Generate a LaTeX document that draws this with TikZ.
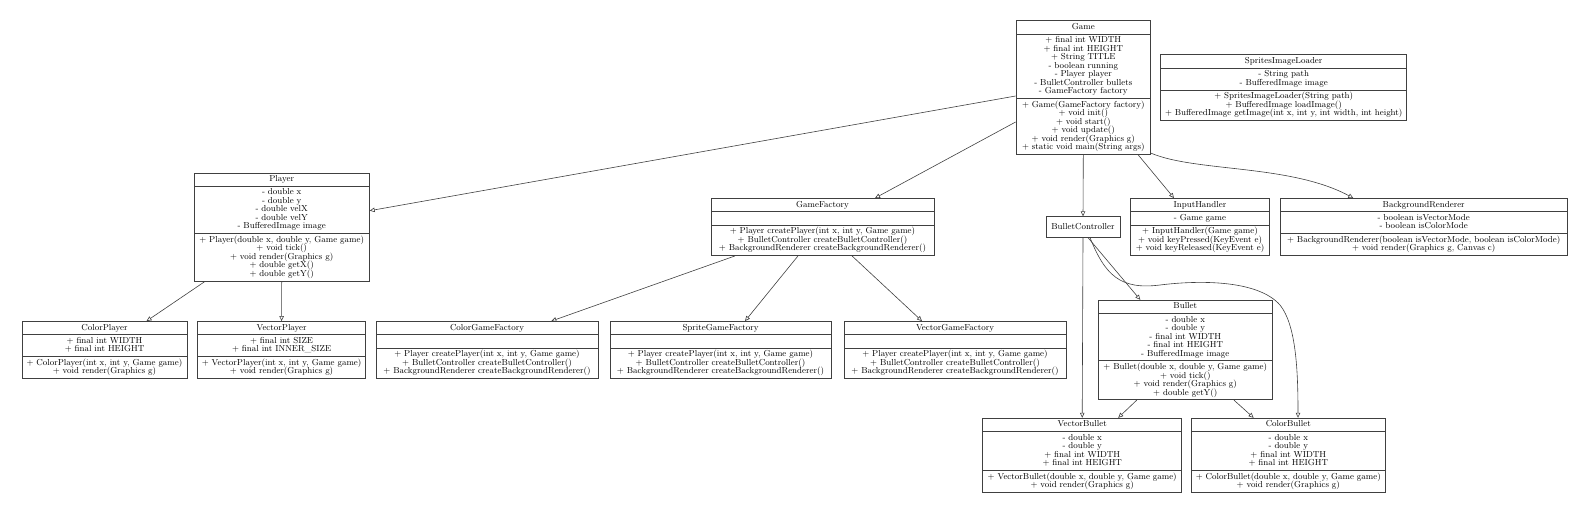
\documentclass[tikz,border=0pt]{standalone}
\usepackage{fontspec}
\usepackage{tikz}
\usetikzlibrary{shapes.multipart, arrows.meta}

\newcommand{\umlfont}{\fontsize{8.7}{8.5}\selectfont\lineskiplimit=-3pt
    \setbox\strutbox\hbox{\vrule height6.3pt depth2.2pt width0pt}}

\begin{document}
\begin{tikzpicture}[x=1pt, y=-1pt,
    umlclass/.style={draw=black!75, line width=0.7pt, rectangle split, rectangle split parts=3,
        font=\umlfont, align=center, inner xsep=2pt, inner ysep=2.05pt},
    umlbox/.style={draw=black!75, line width=0.7pt, font=\umlfont, inner sep=0pt},
    inherit/.style={draw=black!75, line width=0.6pt, -{Triangle[open, length=5pt, width=4.5pt]}}]

    \useasboundingbox (0,0) rectangle (1589,515);

    % first rank
    \node[umlclass, text width=130.7pt] (game) at (1083.3,87.5)
        {\strut Game\strut
        \nodepart{second}\strut + final int WIDTH\\ + final int HEIGHT\\ + String TITLE\\ - boolean running\\
        - Player player\\ - BulletController bullets\\ - GameFactory factory\strut
        \nodepart{third}\strut + Game(GameFactory factory)\\ + void init()\\ + void start()\\ + void update()\\
        + void render(Graphics g)\\ + static void main(String args)\strut};
    \node[umlclass, text width=242pt] (spritesLoader) at (1283.7,87.6)
        {\strut SpritesImageLoader\strut
        \nodepart{second}\strut - String path\\ - BufferedImage image\strut
        \nodepart{third}\strut + SpritesImageLoader(String path)\\ + BufferedImage loadImage()\\
        + BufferedImage getImage(int x, int y, int width, int height)\strut};

    % second rank
    \node[umlclass, text width=171.3pt] (player) at (281.7,227)
        {\strut Player\strut
        \nodepart{second}\strut - double x\\ - double y\\ - double velX\\ - double velY\\ - BufferedImage image\strut
        \nodepart{third}\strut + Player(double x, double y, Game game)\\ + void tick()\\ + void render(Graphics g)\\
        + double getX()\\ + double getY()\strut};
    \node[umlclass, text width=219pt] (gameFactory) at (822.5,227)
        {\strut GameFactory\strut
        \nodepart{second}\strut
        \nodepart{third}\strut + Player createPlayer(int x, int y, Game game)\\ + BulletController createBulletController()\\
        + BackgroundRenderer createBackgroundRenderer()\strut};
    \node[umlbox, minimum width=74pt, minimum height=20.6pt] (bulletCtrl) at (1083,227) {BulletController};
    \node[umlclass, text width=135pt] (inputHandler) at (1200,227)
        {\strut InputHandler\strut
        \nodepart{second}\strut - Game game\strut
        \nodepart{third}\strut + InputHandler(Game game)\\ + void keyPressed(KeyEvent e)\\ + void keyReleased(KeyEvent e)\strut};
    \node[umlclass, text width=283.3pt] (bgRenderer) at (1423.7,227)
        {\strut BackgroundRenderer\strut
        \nodepart{second}\strut - boolean isVectorMode\\ - boolean isColorMode\strut
        \nodepart{third}\strut + BackgroundRenderer(boolean isVectorMode, boolean isColorMode)\\
        + void render(Graphics g, Canvas c)\strut};

    % third rank
    \node[umlclass, text width=161pt] (colorPlayer) at (104.5,350)
        {\strut ColorPlayer\strut
        \nodepart{second}\strut + final int WIDTH\\ + final int HEIGHT\strut
        \nodepart{third}\strut + ColorPlayer(int x, int y, Game game)\\ + void render(Graphics g)\strut};
    \node[umlclass, text width=164.2pt] (vectorPlayer) at (281.6,350)
        {\strut VectorPlayer\strut
        \nodepart{second}\strut + final int SIZE\\ + final int INNER\_SIZE\strut
        \nodepart{third}\strut + VectorPlayer(int x, int y, Game game)\\ + void render(Graphics g)\strut};
    \node[umlclass, text width=218pt] (colorFactory) at (487,350)
        {\strut ColorGameFactory\strut
        \nodepart{second}\strut
        \nodepart{third}\strut + Player createPlayer(int x, int y, Game game)\\ + BulletController createBulletController()\\
        + BackgroundRenderer createBackgroundRenderer()\strut};
    \node[umlclass, text width=217pt] (spriteFactory) at (720.5,350)
        {\strut SpriteGameFactory\strut
        \nodepart{second}\strut
        \nodepart{third}\strut + Player createPlayer(int x, int y, Game game)\\ + BulletController createBulletController()\\
        + BackgroundRenderer createBackgroundRenderer()\strut};
    \node[umlclass, text width=218pt] (vectorFactory) at (955,350)
        {\strut VectorGameFactory\strut
        \nodepart{second}\strut
        \nodepart{third}\strut + Player createPlayer(int x, int y, Game game)\\ + BulletController createBulletController()\\
        + BackgroundRenderer createBackgroundRenderer()\strut};
    \node[umlclass, text width=170pt] (bullet) at (1185.3,350)
        {\strut Bullet\strut
        \nodepart{second}\strut - double x\\ - double y\\ - final int WIDTH\\ - final int HEIGHT\\ - BufferedImage image\strut
        \nodepart{third}\strut + Bullet(double x, double y, Game game)\\ + void tick()\\ + void render(Graphics g)\\
        + double getY()\strut};

    % fourth rank
    \node[umlclass, text width=195pt] (vectorBullet) at (1082.2,455.2)
        {\strut VectorBullet\strut
        \nodepart{second}\strut - double x\\ - double y\\ + final int WIDTH\\ + final int HEIGHT\strut
        \nodepart{third}\strut + VectorBullet(double x, double y, Game game)\\ + void render(Graphics g)\strut};
    \node[umlclass, text width=189.3pt] (colorBullet) at (1288.3,455.2)
        {\strut ColorBullet\strut
        \nodepart{second}\strut - double x\\ - double y\\ + final int WIDTH\\ + final int HEIGHT\strut
        \nodepart{third}\strut + ColorBullet(double x, double y, Game game)\\ + void render(Graphics g)\strut};

    % inheritance arrows
    \draw[inherit] ([yshift=-8.5pt]game.west) -- ([yshift=16.3pt]player.east);
    \draw[inherit] ([yshift=-34.5pt]game.west) -- ([xshift=52.5pt]gameFactory.north);
    \draw[inherit] (game.south) -- (bulletCtrl.north);
    \draw[inherit] ([xshift=54.7pt]game.south) -- ([xshift=-26pt]inputHandler.north);
    \draw[inherit] ([yshift=1.5pt]game.south east) .. controls +(45,19) and +(-63,-34) .. ([xshift=-70.4pt]bgRenderer.north);

    \draw[inherit] ([xshift=-76.7pt]player.south) -- ([xshift=42pt]colorPlayer.north);
    \draw[inherit] (player.south) -- (vectorPlayer.north);

    \draw[inherit] ([xshift=-87.5pt]gameFactory.south) -- ([xshift=64.3pt]colorFactory.north);
    \draw[inherit] ([xshift=-24.5pt]gameFactory.south) -- ([xshift=24.5pt]spriteFactory.north);
    \draw[inherit] ([xshift=29.5pt]gameFactory.south) -- ([xshift=-33pt]vectorFactory.north);

    \draw[inherit] (bulletCtrl.south) -- (vectorBullet.north);
    \draw[inherit] ([xshift=5pt]bulletCtrl.south) -- ([xshift=-45pt]bullet.north);
    \draw[inherit] ([xshift=7pt]bulletCtrl.south) .. controls (1105,275) and (1120,290) .. (1160,285)
        .. controls (1200,280) and (1258,280) .. (1280,305)
        .. controls (1296,325) and (1298,370) .. ([xshift=9.7pt]colorBullet.north);

    \draw[inherit] ([xshift=-48.6pt]bullet.south) -- ([xshift=36pt]vectorBullet.north);
    \draw[inherit] ([xshift=48.7pt]bullet.south) -- ([xshift=-34.7pt]colorBullet.north);
\end{tikzpicture}
\end{document}
